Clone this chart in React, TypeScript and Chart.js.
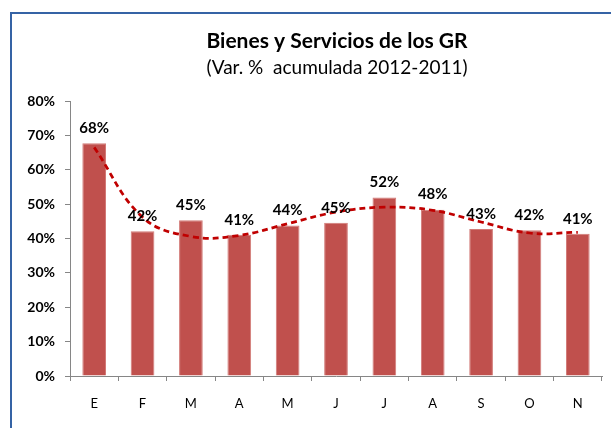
import React, { useEffect, useRef } from "react";
import { Chart, registerables } from "chart.js";

Chart.register(...registerables);

const categories = ["E", "F", "M", "A", "M", "J", "J", "A", "S", "O", "N"];
const values = [67.7, 42.1, 45.3, 41.1, 43.8, 44.6, 51.9, 48.4, 42.8, 42.4, 41.4];
const valueLabels = ["68%", "42%", "45%", "41%", "44%", "45%", "52%", "48%", "43%", "42%", "41%"];
const trendValues = [66.5, 46.2, 40.6, 40.9, 44.3, 47.7, 49.1, 48.2, 44.8, 41.6, 41.8];
const titleText = "Bienes y Servicios de los GR";
const subtitleText = "(Var. %  acumulada 2012-2011)";

const FONT = "Lato, 'Open Sans', sans-serif";

const titlePlugin = {
  id: "titleText",
  afterDraw(chart: any) {
    const ctx = chart.ctx;
    ctx.save();
    ctx.fillStyle = "#000";
    ctx.textAlign = "center";
    ctx.textBaseline = "alphabetic";
    ctx.font = `bold 21px ${FONT}`;
    ctx.fillText(titleText, 337, 48);
    ctx.font = `19px ${FONT}`;
    ctx.fillText(subtitleText, 337, 74);
    ctx.restore();
  },
};

const labelPlugin = {
  id: "barLabels",
  afterDatasetsDraw(chart: any) {
    const ctx = chart.ctx;
    const meta = chart.getDatasetMeta(0);
    ctx.save();
    ctx.fillStyle = "#000";
    ctx.textAlign = "center";
    ctx.textBaseline = "middle";
    ctx.font = `bold 15px ${FONT}`;
    meta.data.forEach((bar: any, i: number) => {
      ctx.fillText(valueLabels[i], bar.x, bar.y - 15);
    });
    ctx.restore();
  },
};

export default function App() {
  const ref = useRef<HTMLCanvasElement>(null);
  useEffect(() => {
    if (!ref.current) return;
    const chart = new Chart(ref.current, {
      type: "bar",
      data: {
        labels: categories,
        datasets: [
          {
            type: "bar",
            data: values,
            backgroundColor: "#C0504D",
            borderColor: "#D27A77",
            borderWidth: 1,
            categoryPercentage: 1,
            barPercentage: 0.49,
            order: 2,
          },
          {
            type: "line",
            data: trendValues,
            borderColor: "#C00000",
            borderWidth: 2.75,
            borderDash: [6, 4],
            pointRadius: 0,
            tension: 0.4,
            fill: false,
            order: 1,
          } as any,
        ],
      },
      options: {
        animation: false,
        responsive: false,
        maintainAspectRatio: false,
        layout: { padding: { left: 0, right: 9, top: 101, bottom: 0 } },
        plugins: {
          legend: { display: false },
          tooltip: { enabled: false },
          title: { display: false },
        },
        scales: {
          x: {
            offset: true,
            grid: {
              offset: true,
              drawOnChartArea: false,
              drawTicks: true,
              tickLength: 5,
              color: "#868686",
            },
            border: { color: "#868686", width: 1 },
            ticks: {
              color: "#000",
              font: { family: FONT, size: 13 },
              padding: 15,
            },
            afterFit: (s: any) => {
              s.height = 52;
            },
          },
          y: {
            min: 0,
            max: 80,
            ticks: {
              stepSize: 10,
              color: "#000",
              font: { family: FONT, size: 14, weight: "bold" },
              padding: 10,
              callback: (v: any) => v + "%",
            },
            grid: {
              drawOnChartArea: false,
              drawTicks: true,
              tickLength: 5,
              color: "#868686",
            },
            border: { color: "#868686", width: 1 },
            afterFit: (s: any) => {
              s.width = 70;
            },
          },
        },
      },
      plugins: [titlePlugin, labelPlugin],
    });
    return () => chart.destroy();
  }, []);
  return (
    <div style={{ position: "fixed", left: 0, top: 0, width: 611, height: 428, background: "#fff" }}>
      <canvas ref={ref} width={611} height={428} style={{ display: "block" }} />
      <div
        style={{
          position: "absolute",
          left: 10,
          top: 12,
          width: 700,
          height: 600,
          borderLeft: "2px solid #3563A5",
          borderTop: "2px solid #3563A5",
          pointerEvents: "none",
        }}
      />
    </div>
  );
}
